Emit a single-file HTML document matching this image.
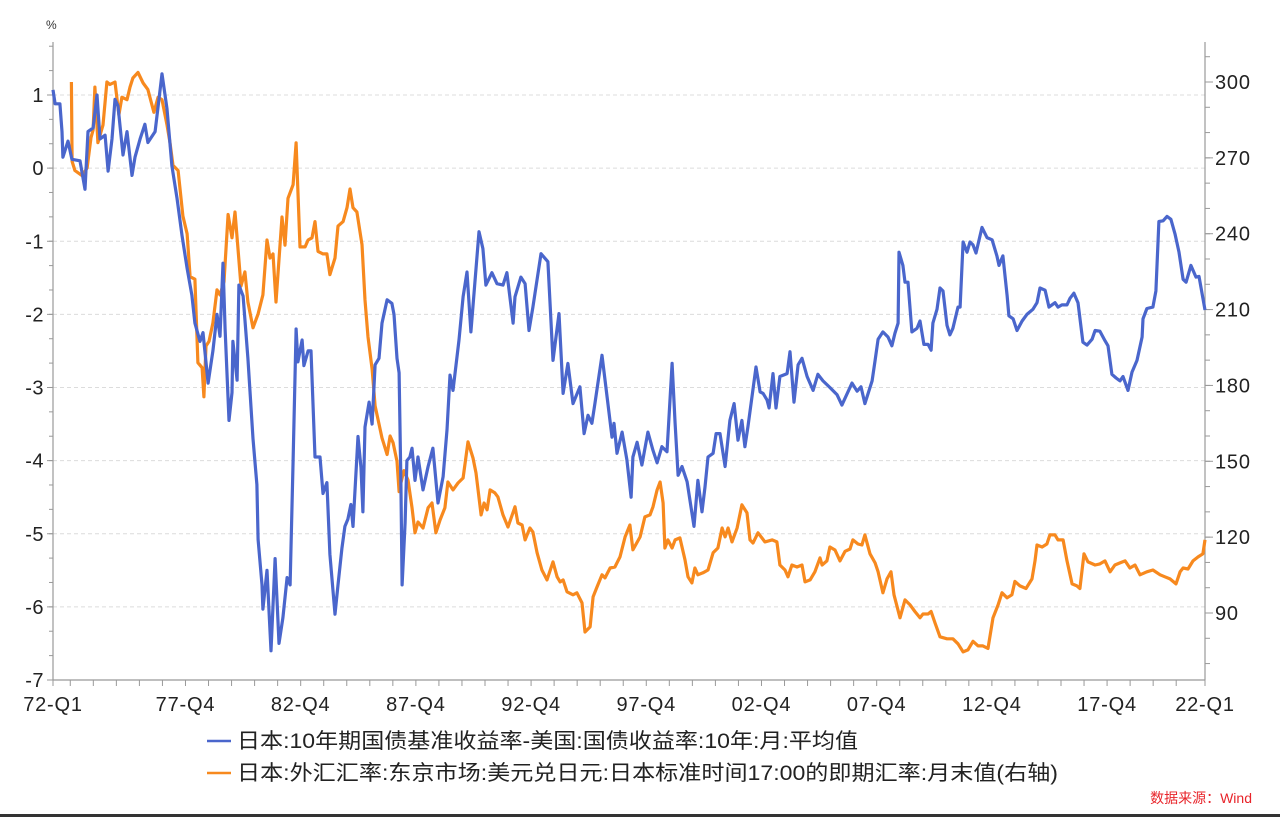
<!DOCTYPE html>
<html><head><meta charset="utf-8"><style>
html,body{margin:0;padding:0;background:#fff;}
body{width:1280px;height:817px;overflow:hidden;position:relative;font-family:"Liberation Sans","Noto Sans CJK SC",sans-serif;}
svg{position:absolute;left:0;top:0;}
</style></head><body>
<svg id="chart" width="1280" height="817" xmlns="http://www.w3.org/2000/svg" font-family="Liberation Sans, Noto Sans CJK SC, sans-serif">
<g id="grid"></g>
<g id="axes"></g>
<g id="series"></g>
<text x="46" y="29" font-size="12" fill="#333">%</text>
<g>
<g>
<line x1="207" y1="741" x2="231" y2="741" stroke="#4A66CC" stroke-width="2.5"/>
<text x="237" y="748" font-size="21" fill="#222" textLength="621" lengthAdjust="spacingAndGlyphs">日本:10年期国债基准收益率-美国:国债收益率:10年:月:平均值</text>
</g>
<g>
<line x1="207" y1="773" x2="231" y2="773" stroke="#F7891E" stroke-width="2.5"/>
<text x="237" y="780" font-size="21" fill="#222" textLength="821" lengthAdjust="spacingAndGlyphs">日本:外汇汇率:东京市场:美元兑日元:日本标准时间17:00的即期汇率:月末值(右轴)</text>
</g>
</g>
<text x="1252" y="803" font-size="14" fill="#E8242A" text-anchor="end">数据来源：Wind</text>
<rect x="0" y="814" width="1280" height="3" fill="#333"/>
</svg>
<script>
// Time in years since 1972-Q1
const spreadTimes=[0,0.09,0.30,0.39,0.43,0.65,0.82,1.17,1.39,1.52,1.74,1.91,2.04,2.26,2.39,2.56,2.69,2.82,3.04,3.21,3.43,3.56,3.78,3.99,4.12,4.43,4.73,4.95,5.16,5.38,5.60,5.82,6.03,6.16,6.38,6.51,6.73,6.94,7.12,7.25,7.38,7.47,7.64,7.77,7.81,7.99,8.07,8.25,8.46,8.68,8.85,8.90,9.07,9.11,9.29,9.46,9.64,9.81,9.98,10.16,10.29,10.42,10.55,10.63,10.81,10.89,11.07,11.20,11.37,11.59,11.72,11.89,12.02,12.24,12.37,12.54,12.67,12.80,12.93,13.02,13.24,13.37,13.45,13.54,13.72,13.85,13.98,14.15,14.28,14.50,14.71,14.80,14.93,15.02,15.10,15.15,15.28,15.36,15.49,15.58,15.71,15.84,16.06,16.28,16.49,16.71,16.93,17.10,17.23,17.36,17.62,17.80,17.97,18.14,18.49,18.66,18.79,19.05,19.27,19.53,19.70,19.97,20.05,20.31,20.49,20.66,20.83,21.18,21.48,21.70,21.96,22.14,22.35,22.57,22.87,23.05,23.22,23.39,23.52,23.83,24.05,24.26,24.35,24.48,24.70,24.91,25.09,25.17,25.35,25.56,25.82,26.04,26.22,26.43,26.65,26.87,27.00,27.13,27.30,27.52,27.82,27.99,28.17,28.30,28.43,28.65,28.78,28.95,29.17,29.38,29.56,29.73,29.90,30.03,30.16,30.51,30.69,30.82,30.99,31.08,31.25,31.38,31.55,31.86,31.99,32.16,32.34,32.51,32.73,32.99,33.20,33.42,33.72,34.03,34.24,34.68,34.90,35.07,35.24,35.55,35.68,35.81,36.02,36.24,36.41,36.54,36.68,36.72,36.89,36.98,37.11,37.28,37.50,37.63,37.80,37.98,38.11,38.19,38.37,38.50,38.63,38.80,38.93,39.06,39.28,39.37,39.50,39.67,39.80,39.93,40.06,40.32,40.54,40.76,40.97,41.06,41.23,41.41,41.49,41.67,41.84,42.06,42.27,42.53,42.71,42.84,43.06,43.23,43.49,43.62,43.79,44.01,44.14,44.31,44.49,44.70,44.88,45.10,45.23,45.44,45.66,45.79,45.96,46.14,46.31,46.44,46.66,46.83,47.05,47.27,47.31,47.48,47.74,47.87,48.00,48.18,48.35,48.52,48.70,48.87,49.05,49.18,49.39,49.61,49.74,50.00];
const spreadValues=[1.07,0.88,0.88,0.5,0.15,0.37,0.12,0.1,-0.29,0.5,0.55,1.0,0.4,0.45,-0.04,0.4,0.94,0.85,0.18,0.5,-0.1,0.15,0.4,0.6,0.35,0.5,1.29,0.81,0.03,-0.41,-0.92,-1.37,-1.74,-2.12,-2.37,-2.25,-2.94,-2.5,-2.0,-2.3,-1.3,-2.2,-3.45,-3.07,-2.37,-2.9,-1.6,-1.75,-2.6,-3.7,-4.33,-5.08,-5.7,-6.03,-5.5,-6.6,-5.34,-6.5,-6.15,-5.6,-5.7,-4.0,-2.2,-2.65,-2.35,-2.7,-2.5,-2.5,-3.95,-3.95,-4.45,-4.3,-5.28,-6.1,-5.7,-5.2,-4.9,-4.8,-4.6,-4.9,-3.67,-4.1,-4.7,-3.54,-3.2,-3.5,-2.69,-2.6,-2.12,-1.8,-1.85,-2.0,-2.6,-2.8,-4.3,-5.7,-4.85,-4.0,-3.95,-3.83,-4.27,-3.95,-4.4,-4.08,-3.83,-4.58,-4.22,-3.58,-2.83,-3.04,-2.35,-1.76,-1.42,-2.24,-0.87,-1.1,-1.6,-1.43,-1.58,-1.6,-1.43,-2.12,-1.76,-1.49,-1.58,-2.22,-1.9,-1.17,-1.28,-2.63,-1.99,-3.08,-2.67,-3.22,-2.99,-3.63,-3.38,-3.49,-3.22,-2.56,-3.13,-3.68,-3.49,-3.9,-3.61,-3.99,-4.5,-3.95,-3.75,-4.06,-3.61,-3.86,-4.03,-3.81,-3.88,-2.67,-3.49,-4.2,-4.08,-4.29,-4.9,-4.27,-4.7,-4.36,-3.95,-3.9,-3.63,-3.63,-4.08,-3.45,-3.22,-3.72,-3.45,-3.81,-3.54,-2.72,-3.06,-3.08,-3.17,-3.28,-2.81,-3.28,-2.85,-2.81,-2.51,-3.2,-2.69,-2.6,-2.85,-3.04,-2.82,-2.91,-3.0,-3.1,-3.24,-2.94,-3.05,-2.99,-3.22,-2.91,-2.63,-2.34,-2.24,-2.31,-2.43,-2.26,-2.12,-1.15,-1.33,-1.56,-1.56,-2.24,-2.19,-2.09,-2.41,-2.41,-2.49,-2.12,-1.93,-1.64,-1.68,-2.15,-2.28,-2.19,-1.9,-1.9,-1.01,-1.15,-1.01,-1.05,-1.16,-0.81,-0.95,-0.98,-1.2,-1.33,-1.2,-1.74,-2.02,-2.06,-2.22,-2.09,-2.0,-1.93,-1.84,-1.64,-1.67,-1.9,-1.84,-1.9,-1.87,-1.87,-1.78,-1.71,-1.84,-2.38,-2.42,-2.34,-2.22,-2.23,-2.36,-2.43,-2.82,-2.87,-2.91,-2.85,-3.04,-2.79,-2.63,-2.31,-2.06,-1.92,-1.9,-1.68,-0.73,-0.72,-0.66,-0.7,-0.9,-1.15,-1.52,-1.56,-1.33,-1.49,-1.48,-1.94];
const fxTimes=[0.80,0.83,0.95,1.26,1.48,1.65,1.74,1.82,1.95,2.17,2.34,2.47,2.69,2.86,2.99,3.21,3.34,3.47,3.69,3.91,4.12,4.38,4.56,4.73,4.95,5.08,5.21,5.43,5.64,5.82,5.95,6.16,6.29,6.47,6.55,6.64,6.77,6.94,7.12,7.25,7.42,7.60,7.77,7.90,8.03,8.16,8.33,8.46,8.68,8.90,9.11,9.29,9.42,9.55,9.68,9.94,10.07,10.20,10.42,10.55,10.72,10.94,11.07,11.24,11.37,11.50,11.72,11.89,12.02,12.24,12.37,12.59,12.76,12.89,13.02,13.19,13.41,13.54,13.67,13.85,13.98,14.11,14.28,14.50,14.63,14.76,14.93,15.02,15.06,15.23,15.41,15.58,15.71,15.84,16.06,16.28,16.45,16.62,16.80,17.01,17.14,17.36,17.58,17.80,18.01,18.23,18.36,18.58,18.71,18.84,18.97,19.18,19.31,19.53,19.75,20.05,20.18,20.36,20.49,20.70,20.83,21.01,21.22,21.44,21.70,21.88,22.01,22.14,22.31,22.57,22.74,22.96,23.09,23.31,23.44,23.61,23.83,23.96,24.18,24.39,24.61,24.83,25.04,25.17,25.48,25.69,25.91,26.04,26.22,26.35,26.48,26.56,26.69,26.87,27.00,27.21,27.43,27.56,27.73,27.86,27.99,28.21,28.43,28.65,28.86,29.04,29.17,29.30,29.47,29.69,29.90,30.12,30.25,30.38,30.60,30.90,31.21,31.42,31.55,31.77,31.90,32.07,32.29,32.51,32.64,32.86,33.07,33.29,33.38,33.59,33.72,33.94,34.16,34.38,34.59,34.72,34.94,35.11,35.24,35.46,35.68,35.81,36.02,36.20,36.37,36.50,36.76,36.98,37.20,37.41,37.63,37.76,37.98,38.11,38.28,38.50,38.80,39.06,39.28,39.50,39.71,39.93,40.15,40.36,40.58,40.80,41.02,41.19,41.41,41.62,41.75,41.97,42.23,42.49,42.62,42.71,42.93,43.14,43.27,43.49,43.62,43.84,44.01,44.23,44.44,44.57,44.75,44.92,45.23,45.44,45.66,45.88,46.09,46.31,46.53,46.74,46.96,47.18,47.48,47.74,48.05,48.26,48.48,48.74,48.92,49.05,49.26,49.48,49.70,49.91,50.00];
const fxValues=[300,268.6,265,263,266,278,281,298,276,283,300,299,300,287,294,293,298,301.6,303.8,299.6,297,288,294,293,283,276,267,265,247,240,223,222,189,187,175.5,195.6,197.4,204.7,217.8,215.8,221,247.6,238.4,248.6,234,219.3,224.9,213,202.8,208.3,215.8,237.5,230.4,232,213,246.6,235.5,254,259.4,275.9,234.8,234.8,237.5,238.4,244.8,233,232,232,223.8,230.4,243,244.8,250.3,257.7,250.3,248.6,235.7,213.8,199.2,186.5,171.9,166.4,159.2,152.7,160,157.3,150,138,140,146.3,142.6,131.7,121.7,126,123.6,131.6,133.5,121.7,126.8,131.6,141.8,138.7,141.4,143.4,157.7,151.3,145.4,128.8,133.5,130.8,138.7,137.5,135.9,128.8,124,132,125.6,124.8,118.9,123.6,122,113.8,107,103.1,110.2,104.3,102.3,103.1,98.4,97.2,98,94,82.5,84.5,96.4,100.3,105.1,103.9,107.8,108.2,112.2,120.1,124.8,115,120.1,128,128.8,132,138.7,141.8,133.5,115.7,118.9,115.7,118.9,119.7,111,104.3,101.9,107.8,105.1,105.9,107,113.8,115.7,123.6,120.1,123.6,118.1,123.6,132.8,129.6,118.9,117.7,121.7,118.1,118.9,118.1,109,107,104.3,109,108.2,109,102.3,103.1,106.3,111.8,109,110.6,116.1,114.9,110.6,114.4,115.3,118.9,117.3,116.9,120.9,113.4,109.8,106.3,98,103.5,106.3,97.2,88.1,95.2,93.2,90.6,88.1,89.6,89.6,90.6,86.1,80.6,79.8,79.8,77.8,74.6,75.4,78.8,77,77,76,88.1,93.2,98,96,97.2,102.5,100.7,99.7,103.5,110.6,116.9,116.1,117.3,120.9,120.9,118.9,118.9,110.6,101.5,100.7,99.7,113.4,110.2,109,109.4,110.6,106.3,109,109.8,110.6,107.8,109,105.1,106.3,107,105.1,104.3,103.5,101.5,106.3,107.8,107.4,110.6,112.2,113.4,118.9];
const leftTicks=[1,0,-1,-2,-3,-4,-5,-6,-7];
const rightTicks=[300,270,240,210,180,150,120,90];
const xTickLabels=["72-Q1","77-Q4","82-Q4","87-Q4","92-Q4","97-Q4","02-Q4","07-Q4","12-Q4","17-Q4","22-Q1"];
const xTickYears=[0,5.75,10.75,15.75,20.75,25.75,30.75,35.75,40.75,45.75,50];

const X0=53,X1=1205,Y0=42,Y1=680;
const xs=t=>X0+(t/50)*(X1-X0);
const yL=v=>95+(1-v)*73.125;
const yR=v=>82+(300-v)*(531/210);
const NS="http://www.w3.org/2000/svg";
function mk(tag,attrs,parent){const e=document.createElementNS(NS,tag);for(const k in attrs)e.setAttribute(k,attrs[k]);parent.appendChild(e);return e;}
const grid=document.getElementById('grid'),axes=document.getElementById('axes'),series=document.getElementById('series');

leftTicks.forEach(v=>{
  const y=yL(v);
  if(v>-7){const g=mk('line',{x1:X0,x2:X1,y1:y,y2:y,stroke:'#dcdcdc','stroke-width':1,'stroke-dasharray':'4,3'},grid);
  
  }
  mk('line',{x1:X0-6,x2:X0,y1:y,y2:y,stroke:'#999','stroke-width':1},axes);
  const t=mk('text',{x:44,y:y+7,'font-size':20,fill:'#222','text-anchor':'end','letter-spacing':'0.5'},axes);
  t.textContent=String(v);
  
  
});
for(let v=1.667;v>-7;v-=1/3){mk('line',{x1:X0-4,x2:X0,y1:yL(v),y2:yL(v),stroke:'#999','stroke-width':1},axes);}
mk('line',{x1:X0,x2:X0,y1:Y0,y2:Y1,stroke:'#999','stroke-width':1.2},axes);
mk('line',{x1:X1,x2:X1,y1:Y0,y2:Y1,stroke:'#999','stroke-width':1.2},axes);
mk('line',{x1:X0,x2:X1,y1:Y1,y2:Y1,stroke:'#999','stroke-width':1.2},axes);
for(let v=70;v<=310;v+=10){mk('line',{x1:X1,x2:X1+5,y1:yR(v),y2:yR(v),stroke:'#999','stroke-width':1},axes);}
rightTicks.forEach(v=>{
  const y=yR(v);
  mk('line',{x1:X1,x2:X1+8,y1:y,y2:y,stroke:'#999','stroke-width':1},axes);
  const t=mk('text',{x:1215,y:y+7,'font-size':20,fill:'#222','letter-spacing':'0.8'},axes);
  t.textContent=String(v);
  
  
});
for(let k=0;k<=49;k++){const t=k===0?0:k-0.25;mk('line',{x1:xs(t),x2:xs(t),y1:Y1,y2:Y1+6,stroke:'#999','stroke-width':1},axes);}
mk('line',{x1:xs(50),x2:xs(50),y1:Y1,y2:Y1+6,stroke:'#999','stroke-width':1},axes);
xTickLabels.forEach((lab,i)=>{
  const t=mk('text',{x:xs(xTickYears[i]),y:711,'font-size':20,fill:'#222','text-anchor':'middle','letter-spacing':'0.8'},axes);
  t.textContent=lab;
  
  
});
function path(times,vals,yf,color,name){
  const d=times.map((t,i)=>(i?'L':'M')+xs(t).toFixed(1)+','+yf(vals[i]).toFixed(1)).join('');
  const p=mk('path',{d:d,fill:'none',stroke:color,'stroke-width':3.2,'stroke-linejoin':'round'},series);
  
  
}
path(fxTimes,fxValues,yR,'#F7891E','usdjpy-line');
path(spreadTimes,spreadValues,yL,'#4A66CC','yield-spread-line');
</script>
</body></html>
